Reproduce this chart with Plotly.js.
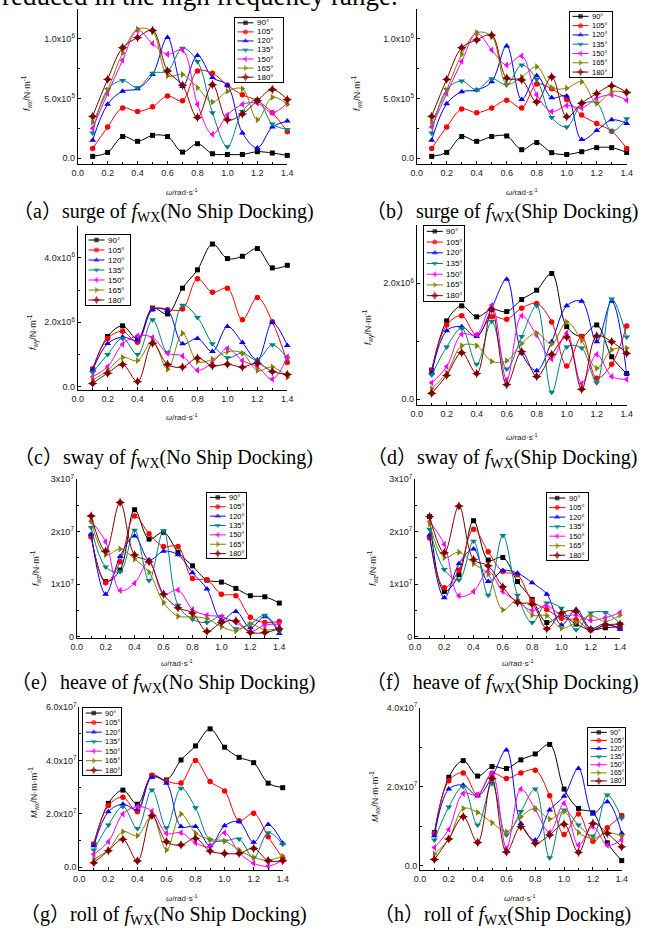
<!DOCTYPE html>
<html><head><meta charset="utf-8">
<script src="https://cdn.plot.ly/plotly-3.0.1.min.js"></script>
<style>html,body{margin:0;padding:0;background:#fff}</style>
</head><body><div id="chart" style="width:648px;height:931px"></div>
<script>
// ---------- DATA ----------
const omega = [0.1,0.2,0.3,0.4,0.5,0.6,0.7,0.8,0.9,1.0,1.1,1.2,1.3,1.4];
const headings = ['90°','105°','120°','135°','150°','165°','180°'];
const xTickVals = [0,0.2,0.4,0.6,0.8,1.0,1.2,1.4];
const xTickText = ['0.0','0.2','0.4','0.6','0.8','1.0','1.2','1.4'];

// (a) surge, no ship docking, unit 1e5 N/m ; rows = 90..180 deg
const surgeNoDockUnit = 1e5;
const surgeNoDock = [
  [0.14,0.47,1.8,1.4,1.9,1.8,0.5,1.2,0.36,0.3,0.3,0.53,0.42,0.22],
  [0.8,2.6,4.2,3.9,4.3,5.2,4.8,7.3,7.1,6.1,5.3,4.8,3.8,2.2],
  [1.5,4.5,5.6,5.8,7.0,10.1,6.0,8.6,6.75,6.1,2.1,0.85,2.6,3.1],
  [2.1,5.75,6.5,5.9,7.1,7.3,9.2,8.1,3.8,0.95,3.9,4.9,2.85,2.4],
  [2.5,5.4,8.2,10.7,9.6,8.7,9.05,4.5,2.0,3.6,4.5,4.6,3.8,4.6],
  [3.0,5.7,8.8,10.8,10.6,6.9,7.0,5.9,4.7,5.6,5.8,3.2,5.1,4.5],
  [3.5,6.6,9.25,10.1,10.7,7.3,6.1,3.4,6.15,3.2,3.7,4.8,5.75,4.9]
];
// (b) surge, ship docking, unit 1e5
const surgeDockUnit = 1e5;
const surgeDock = [
  [0.14,0.47,1.8,1.4,1.8,1.85,0.7,1.3,0.45,0.3,0.53,0.87,0.87,0.47],
  [0.8,2.6,4.1,3.8,4.2,4.85,4.2,6.2,5.8,4.9,3.6,2.9,2.25,0.8],
  [1.5,4.55,5.55,5.7,6.4,9.4,4.9,6.9,5.05,5.2,1.55,2.3,3.2,2.9],
  [2.1,5.75,6.45,5.7,6.65,6.15,7.8,6.6,3.4,2.6,4.5,4.6,2.25,3.3],
  [2.6,5.4,8.1,10.45,9.05,7.8,8.55,5.3,3.9,4.4,4.2,5.0,5.3,4.85],
  [3.0,5.7,8.7,10.5,10.2,6.2,6.8,7.65,5.9,5.85,6.4,4.6,5.55,5.5],
  [3.5,6.6,9.25,9.9,10.3,6.7,6.55,4.7,6.8,3.45,4.6,5.4,6.05,5.5]
];
// (c) sway, no ship docking, unit 1e6
const swayNoDockUnit = 1e6;
const swayNoDock = [
  [0.54,1.56,1.89,1.48,2.44,2.26,3.06,3.63,4.43,3.98,4.05,4.29,3.69,3.77],
  [0.55,1.5,1.72,1.38,2.41,2.39,2.41,3.35,2.93,3.06,2.08,2.77,2.02,0.75],
  [0.52,1.34,1.54,1.45,2.39,2.37,1.33,1.5,1.09,1.87,1.37,0.83,1.99,1.28],
  [0.44,1.0,1.5,1.0,2.08,1.06,2.53,2.15,1.33,0.9,1.04,0.83,1.3,0.88],
  [0.31,0.62,1.32,1.58,1.53,1.04,0.955,0.51,0.75,1.19,0.81,0.62,0.23,0.93],
  [0.21,0.5,0.91,0.81,1.43,0.54,1.66,0.78,0.85,1.09,1.04,0.5,0.61,0.29],
  [0.1,0.42,0.69,0.16,1.35,0.69,0.61,0.89,0.65,0.7,0.61,0.73,0.47,0.38]
];
// (d) sway, ship docking, unit 1e6
const swayDockUnit = 1e6;
const swayDock = [
  [0.5,1.35,1.61,1.42,1.55,1.51,1.72,1.88,2.17,1.25,1.08,1.28,0.73,0.44],
  [0.49,1.28,1.44,1.1,1.42,1.38,1.57,1.65,1.33,0.57,1.08,0.36,0.6,1.26],
  [0.455,1.18,1.25,1.08,1.57,2.07,0.79,0.49,0.99,1.61,1.69,0.99,1.69,0.44],
  [0.415,0.9,1.22,0.6,1.34,0.52,1.08,1.61,0.115,0.9,0.88,0.28,1.73,1.07],
  [0.28,0.56,1.12,1.11,1.62,0.33,1.44,1.1,0.69,1.14,0.27,0.77,0.39,0.34],
  [0.18,0.45,0.92,0.92,0.65,0.66,0.96,1.14,0.95,1.33,1.01,0.53,0.85,0.88],
  [0.1,0.41,0.8,0.44,1.55,0.25,0.82,0.39,0.77,1.07,0.17,1.09,0.99,0.79]
];
// (e) heave, no ship docking, unit 1e7
const heaveNoDockUnit = 1e7;
const heaveNoDock = [
  [1.92,1.05,1.27,2.42,1.86,1.99,1.61,1.35,1.08,1.04,0.92,0.78,0.76,0.64],
  [1.9,1.03,1.43,2.3,1.96,1.72,1.72,1.11,1.08,0.81,0.78,0.37,0.27,0.29],
  [1.95,0.81,1.53,1.92,1.46,1.63,1.56,1.22,0.91,0.32,0.48,0.17,0.38,0.06],
  [2.08,1.33,1.24,2.03,1.07,2.02,0.6,0.33,0.27,0.39,0.15,0.24,0.41,0.1],
  [2.2,1.81,0.88,1.02,1.44,0.81,0.89,0.52,0.41,0.38,0.27,0.1,0.22,0.24],
  [2.2,1.56,1.67,1.48,1.23,0.65,0.39,0.38,0.34,0.19,0.11,0.24,0.13,0.16],
  [2.3,1.63,2.56,1.56,1.43,0.81,0.55,0.45,0.1,0.27,0.3,0.08,0.08,0.15]
];
// (f) heave, ship docking, unit 1e7
const heaveDockUnit = 1e7;
const heaveDock = [
  [2.29,0.86,1.18,2.21,1.46,1.51,1.05,0.71,0.27,0.4,0.24,0.13,0.17,0.19],
  [1.88,0.93,1.27,2.05,1.62,1.24,1.18,0.68,0.52,0.35,0.32,0.13,0.22,0.17],
  [1.94,0.74,1.39,1.67,1.05,1.26,1.21,1.03,0.81,0.22,0.52,0.16,0.25,0.14],
  [2.05,1.28,1.08,1.82,0.79,1.93,0.79,0.27,0.64,0.54,0.13,0.45,0.46,0.25],
  [2.19,1.76,0.78,0.86,1.25,0.86,0.67,0.5,0.59,0.41,0.41,0.31,0.36,0.46],
  [2.15,1.51,1.61,1.39,1.19,0.51,0.7,0.41,0.4,0.16,0.27,0.4,0.29,0.41],
  [2.29,1.6,2.49,1.47,1.35,0.95,0.65,0.62,0.15,0.45,0.48,0.13,0.22,0.24]
];
// (g) roll, no ship docking, unit 1e7
const rollNoDockUnit = 1e7;
const rollNoDock = [
  [0.86,2.39,2.89,2.36,3.42,3.27,4.02,4.55,5.19,4.5,4.12,3.92,3.15,2.98],
  [0.86,2.31,2.62,2.08,3.45,3.23,3.16,4.0,3.21,2.86,1.74,2.02,1.14,0.33],
  [0.8,2.08,2.36,2.17,3.37,3.15,1.52,1.52,0.8,1.55,1.7,0.93,1.6,0.89],
  [0.64,1.58,2.27,1.45,2.89,1.48,2.96,2.23,1.02,0.98,1.05,0.35,1.29,0.86],
  [0.48,0.95,1.99,2.27,2.1,1.27,1.29,0.91,0.76,1.29,0.55,0.14,0.03,0.26],
  [0.3,0.64,1.33,1.18,1.93,0.64,1.99,1.27,1.04,0.98,0.64,0.36,0.26,0.41],
  [0.16,0.61,1.04,0.23,1.93,0.95,0.83,1.08,0.6,0.51,0.51,0.7,0.24,0.24]
];
// (h) roll, ship docking, unit 1e7
const rollDockUnit = 1e7;
const rollDock = [
  [0.84,2.24,2.66,2.27,2.51,2.46,2.68,2.83,3.07,1.94,1.45,1.34,0.58,0.13],
  [0.82,2.15,2.35,1.79,2.34,2.21,2.35,2.42,1.77,0.79,1.31,0.62,0.96,1.27],
  [0.76,1.94,2.04,1.77,2.25,2.93,1.07,0.65,1.41,1.76,2.46,1.31,1.62,0.82],
  [0.65,1.49,2.0,1.03,2.08,0.78,1.37,1.94,0.2,1.41,1.03,0.75,1.79,1.2],
  [0.46,0.92,1.83,1.79,2.34,0.44,1.94,1.43,0.84,1.58,0.52,0.99,0.52,0.65],
  [0.3,0.68,1.45,1.35,1.09,0.86,1.24,1.45,1.18,1.37,0.84,0.69,0.84,0.75],
  [0.16,0.68,1.24,0.59,2.21,0.35,0.99,0.57,0.78,1.05,0.34,1.07,0.82,0.48]
];

// tick labels
const surgeTickVals = [0,5e5,1e6];
const surgeTickText = ['0.0','5.0x10<sup>5</sup>','1.0x10<sup>6</sup>'];
const swayNoDockTickVals = [0,2e6,4e6];
const swayNoDockTickText = ['0.0','2.0x10<sup>6</sup>','4.0x10<sup>6</sup>'];
const swayDockTickVals = [0,2e6];
const swayDockTickText = ['0.0','2.0x10<sup>6</sup>'];
const heaveTickVals = [0,1e7,2e7,3e7];
const heaveTickText = ['0','1x10<sup>7</sup>','2x10<sup>7</sup>','3x10<sup>7</sup>'];
const rollNoDockTickVals = [0,2e7,4e7,6e7];
const rollNoDockTickText = ['0.0','2.0x10<sup>7</sup>','4.0x10<sup>7</sup>','6.0x10<sup>7</sup>'];
const rollDockTickVals = [0,2e7,4e7];
const rollDockTickText = ['0.0','2.0x10<sup>7</sup>','4.0x10<sup>7</sup>'];

const captions = [
  '（a）surge of <i>f</i><sub>WX</sub>(No Ship Docking)',
  '（b）surge of <i>f</i><sub>WX</sub>(Ship Docking)',
  '（c）sway of <i>f</i><sub>WX</sub>(No Ship Docking)',
  '（d）sway of <i>f</i><sub>WX</sub>(Ship Docking)',
  '（e）heave of <i>f</i><sub>WX</sub>(No Ship Docking)',
  '（f）heave of <i>f</i><sub>WX</sub>(Ship Docking)',
  '（g）roll of <i>f</i><sub>WX</sub>(No Ship Docking)',
  '（h）roll of <i>f</i><sub>WX</sub>(Ship Docking)'
];
const yTitles = [
  '<i>f</i><sub>wx</sub>/N·m<sup>-1</sup>','<i>f</i><sub>wx</sub>/N·m<sup>-1</sup>',
  '<i>f</i><sub>wy</sub>/N·m<sup>-1</sup>','<i>f</i><sub>wy</sub>/N·m<sup>-1</sup>',
  '<i>f</i><sub>wz</sub>/N·m<sup>-1</sup>','<i>f</i><sub>wz</sub>/N·m<sup>-1</sup>',
  '<i>M</i><sub>wx</sub>/N·m·m<sup>-1</sup>','<i>M</i><sub>wx</sub>/N·m·m<sup>-1</sup>'
];
const xTitle = '<i>ω</i>/rad·s<sup>-1</sup>';
const topLine = 'reduced in the high frequency range.';

// ---------- STYLE / LAYOUT ----------
const W = 648, H = 931;
const colors = ['#000000','#FF0000','#0000FF','#008080','#FF00FF','#808000','#800000'];
const symbols = ['square','circle','triangle-up','triangle-down','triangle-left','triangle-right','star-diamond'];
const msize = [5,5.5,6,6,6,6,7];
const SANS = 'Liberation Sans, Arial, sans-serif';
const SERIF = 'Liberation Serif, Times New Roman, Noto Sans CJK SC, serif';

const panels = [
  {data:surgeNoDock, unit:surgeNoDockUnit, tv:surgeTickVals, tt:surgeTickText, minor:2.5e5,
   box:[77.7,287.3,8.9,164], yr:[-5e4,1.25e6], leg:[235,283,18.3,81.7], lf:8,
   xt:[182,192], yt:[27,93], cap:[163,212]},
  {data:surgeDock, unit:surgeDockUnit, tv:surgeTickVals, tt:surgeTickText, minor:2.5e5,
   box:[416.7,626.7,8.9,164], yr:[-5e4,1.25e6], leg:[570,612,11.7,76.7], lf:7.5,
   xt:[521.7,192], yt:[357,93], cap:[502,212]},
  {data:swayNoDock, unit:swayNoDockUnit, tv:swayNoDockTickVals, tt:swayNoDockTickText, minor:1e6,
   box:[77.7,287.3,225.7,389.9], yr:[-1e5,5e6], leg:[86,130,235,305], lf:8,
   xt:[182,417], yt:[33,332], cap:[163,458]},
  {data:swayDock, unit:swayDockUnit, tv:swayDockTickVals, tt:swayDockTickText, minor:1e6,
   box:[416.7,626.7,225.4,404.8], yr:[-1e5,3e6], leg:[424.3,464.3,226,301], lf:8,
   xt:[521.7,437], yt:[368,327], cap:[502,458]},
  {data:heaveNoDock, unit:heaveNoDockUnit, tv:heaveTickVals, tt:heaveTickText, minor:5e6,
   box:[76.7,279.3,479.3,637.7], yr:[-2e5,3e7], leg:[207.3,246,492.7,558.3], lf:7.5,
   xt:[177,663], yt:[35,568], cap:[163,683]},
  {data:heaveDock, unit:heaveDockUnit, tv:heaveTickVals, tt:heaveTickText, minor:5e6,
   box:[415,620,479.3,637.7], yr:[-2e5,3e7], leg:[546.7,588.3,493.3,560], lf:7.5,
   xt:[518,663], yt:[372,568], cap:[502,683]},
  {data:rollNoDock, unit:rollNoDockUnit, tv:rollNoDockTickVals, tt:rollNoDockTickText, minor:1e7,
   box:[79.3,282.7,707.3,869.7], yr:[-1e6,6e7], leg:[83.3,120.7,708.3,775], lf:7.5,
   xt:[182,898], yt:[33,793], cap:[163,915]},
  {data:rollDock, unit:rollDockUnit, tv:rollDockTickVals, tt:rollDockTickText, minor:1e7,
   box:[420,621.7,707.7,869.7], yr:[-1e6,4e7], leg:[588.3,625,728.3,785], lf:7,
   xt:[520,898], yt:[374,797], cap:[502,915]}
];

const px = v => v / W;
const py = v => 1 - v / H;

const traces = [];
const layout = {
  width: W, height: H,
  margin: {l:0, r:0, t:0, b:0},
  paper_bgcolor: '#fff', plot_bgcolor: 'rgba(0,0,0,0)',
  showlegend: false,
  font: {family: SANS, color: '#222'},
  annotations: [], shapes: []
};

panels.forEach((p, k) => {
  const n = k + 1, sfx = n === 1 ? '' : String(n);
  const ln = k + 9;
  // data axes
  layout['xaxis' + sfx] = {
    domain: [px(p.box[0]), px(p.box[1])], range: [0, 1.4], anchor: 'y' + sfx,
    showline: true, linecolor: '#000', linewidth: 1, mirror: false,
    showgrid: false, zeroline: false,
    tickmode: 'array', tickvals: xTickVals, ticktext: xTickText,
    ticks: 'inside', ticklen: 3, tickcolor: '#000', tickwidth: 1,
    minor: {tickmode: 'linear', tick0: 0, dtick: 0.1, ticks: 'inside', ticklen: 2, tickcolor: '#000'},
    tickfont: {family: SANS, size: 9, color: '#222'}, fixedrange: true
  };
  layout['yaxis' + sfx] = {
    domain: [py(p.box[3]), py(p.box[2])], range: p.yr, anchor: 'x' + sfx,
    showline: true, linecolor: '#000', linewidth: 1, mirror: false,
    showgrid: false, zeroline: false,
    tickmode: 'array', tickvals: p.tv, ticktext: p.tt,
    ticks: 'inside', ticklen: 3, tickcolor: '#000', tickwidth: 1,
    minor: {tickmode: 'linear', tick0: 0, dtick: p.minor, ticks: 'inside', ticklen: 2, tickcolor: '#000'},
    tickfont: {family: SANS, size: 9, color: '#222'}, fixedrange: true
  };
  // legend axes (box)
  const lw = p.leg[1] - p.leg[0], lh = p.leg[3] - p.leg[2];
  layout['xaxis' + ln] = {
    domain: [px(p.leg[0]), px(p.leg[1])], range: [0, lw], anchor: 'y' + ln,
    showline: true, mirror: true, linecolor: '#000', linewidth: 1,
    showticklabels: false, ticks: '', showgrid: false, zeroline: false, fixedrange: true
  };
  layout['yaxis' + ln] = {
    domain: [py(p.leg[3]), py(p.leg[2])], range: [lh, 0], anchor: 'x' + ln,
    showline: true, mirror: true, linecolor: '#000', linewidth: 1,
    showticklabels: false, ticks: '', showgrid: false, zeroline: false, fixedrange: true
  };

  p.data.forEach((vals, i) => {
    traces.push({
      type: 'scatter', mode: 'lines+markers', name: headings[i],
      x: omega, y: vals.map(v => v * p.unit),
      xaxis: 'x' + sfx, yaxis: 'y' + sfx, cliponaxis: false,
      line: {color: colors[i], width: 1, shape: 'spline', smoothing: 1},
      marker: {symbol: symbols[i], size: msize[i], color: colors[i], line: {width: 0}}
    });
    const rowY = (i + 0.5) * lh / 7;
    traces.push({
      type: 'scatter', mode: 'lines+markers', name: headings[i], showlegend: false,
      x: [2.5, 10.5, 18.5], y: [rowY, rowY, rowY],
      xaxis: 'x' + ln, yaxis: 'y' + ln, cliponaxis: false, hoverinfo: 'skip',
      line: {color: colors[i], width: 1},
      marker: {symbol: symbols[i], size: [0, msize[i] - 0.5, 0], color: colors[i], line: {width: 0}}
    });
    layout.annotations.push({
      xref: 'x' + ln, yref: 'y' + ln, x: 20, y: rowY, xanchor: 'left', yanchor: 'middle',
      text: headings[i], showarrow: false, font: {family: SANS, size: p.lf, color: '#000'}
    });
  });

  // axis titles & caption
  layout.annotations.push({
    xref: 'paper', yref: 'paper', x: px(p.xt[0]), y: py(p.xt[1]), xanchor: 'center', yanchor: 'middle',
    text: xTitle, showarrow: false, font: {family: SANS, size: 8, color: '#222'}
  });
  layout.annotations.push({
    xref: 'paper', yref: 'paper', x: px(p.yt[0]), y: py(p.yt[1]), xanchor: 'center', yanchor: 'middle',
    text: yTitles[k], textangle: -90, showarrow: false, font: {family: SANS, size: 9, color: '#222'}
  });
  layout.annotations.push({
    xref: 'paper', yref: 'paper', x: px(p.cap[0]), y: py(p.cap[1]), xanchor: 'center', yanchor: 'middle',
    text: captions[k], showarrow: false, font: {family: SERIF, size: 20, color: '#000'}
  });
});

layout.annotations.push({
  xref: 'paper', yref: 'paper', x: 0, y: py(-3.6), xanchor: 'left', yanchor: 'middle',
  text: topLine, showarrow: false, font: {family: SERIF, size: 27, color: '#000'}
});

Plotly.newPlot('chart', traces, layout, {displayModeBar: false, staticPlot: true});
</script>
</body></html>
